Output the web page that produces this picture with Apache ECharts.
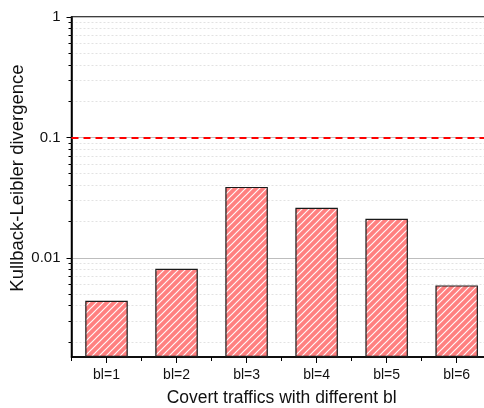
<!DOCTYPE html>
<html>
<head>
<meta charset="utf-8">
<script src="https://cdn.jsdelivr.net/npm/echarts@6/dist/echarts.min.js"></script>
<style>
  html, body { margin: 0; padding: 0; background: #ffffff; }
  #chart { width: 484px; height: 408px; }
</style>
</head>
<body>
<div id="chart"></div>
<script>
// Kullback-Leibler divergence per covert traffic setting (log scale)
const categories = ['bl=1', 'bl=2', 'bl=3', 'bl=4', 'bl=5', 'bl=6'];
const klValues = [0.0044, 0.0081, 0.0388, 0.026, 0.0211, 0.0059];
const thresholdValue = 0.1;

// y range (data units) and tick positions
const yMin = 0.0015;
const yMax = 1;
const majorTicks = [0.01, 0.1, 1];
const majorTickLabels = ['0.01', '0.1', '1'];
const minorTicks = [
  0.002, 0.003, 0.004, 0.005, 0.006, 0.007, 0.008, 0.009,
  0.02, 0.03, 0.04, 0.05, 0.06, 0.07, 0.08, 0.09,
  0.2, 0.3, 0.4, 0.5, 0.6, 0.7, 0.8, 0.9
];

// Values are drawn as decades above the axis floor, so bars rise from the bottom
const logBase = Math.log10(yMin);
const toAxis = v => Math.log10(v) - logBase;
const axisMax = toAxis(yMax);

// Diagonal white hatch on a light red fill
function hatchPattern() {
  const s = 7;
  const c = document.createElement('canvas');
  c.width = s; c.height = s;
  const g = c.getContext('2d');
  g.fillStyle = '#ff8080';
  g.fillRect(0, 0, s, s);
  g.strokeStyle = 'rgba(255,255,255,0.95)';
  g.lineWidth = 1.2;
  g.beginPath();
  g.moveTo(-1, s + 1); g.lineTo(s + 1, -1);
  g.moveTo(-1, 1); g.lineTo(1, -1);
  g.moveTo(s - 1, s + 1); g.lineTo(s + 1, s - 1);
  g.stroke();
  return c;
}

const chart = echarts.init(document.getElementById('chart'), null, { renderer: 'canvas' });
const textColor = '#111';
const font = 'Liberation Sans, Arial, sans-serif';

chart.setOption({
  animation: false,
  grid: {
    left: 71.5, top: 17, right: -7.7, bottom: 51,
    outerBoundsMode: 'none',
    containLabel: false,
    show: true, borderColor: '#000', borderWidth: 1.5, backgroundColor: 'transparent'
  },
  xAxis: [
    {
      type: 'category',
      data: categories,
      position: 'bottom',
      axisLine: { show: true, lineStyle: { color: '#000', width: 1.5 } },
      axisTick: { show: true, length: 4, lineStyle: { color: '#000', width: 1 } },
      axisLabel: { color: textColor, fontSize: 14, fontFamily: font, margin: 11 },
      name: 'Covert traffics with different bl',
      nameLocation: 'middle',
      nameGap: 32,
      nameTextStyle: { color: textColor, fontSize: 17.5, fontFamily: font }
    },
    {
      type: 'category',
      data: categories,
      position: 'bottom',
      axisLine: { show: false },
      axisTick: { show: true, alignWithLabel: true, length: 6, lineStyle: { color: '#000', width: 1 } },
      axisLabel: { show: false }
    }
  ],
  yAxis: [
    {
      type: 'value',
      min: 0,
      max: axisMax,
      position: 'left',
      axisLine: { show: true, lineStyle: { color: '#000', width: 1.5 } },
      axisTick: {
        show: true, length: 5, inside: false,
        customValues: majorTicks.map(toAxis),
        lineStyle: { color: '#000', width: 1 }
      },
      axisLabel: {
        show: true, color: textColor, fontSize: 15, fontFamily: font, margin: 11,
        customValues: majorTicks.map(toAxis),
        formatter: function (v) {
          let best = 0;
          majorTicks.forEach((t, i) => {
            if (Math.abs(toAxis(t) - v) < Math.abs(toAxis(majorTicks[best]) - v)) best = i;
          });
          return majorTickLabels[best];
        }
      },
      splitLine: { show: true, lineStyle: { color: '#bdbdbd', width: 1, type: 'solid' } },
      name: 'Kullback-Leibler divergence',
      nameLocation: 'middle',
      nameGap: 44,
      nameRotate: 90,
      nameMoveOverlap: false,
      nameTextStyle: { color: textColor, fontSize: 18.5, fontFamily: font, padding: [0, 0, 0, 18] }
    },
    {
      type: 'value',
      min: 0,
      max: axisMax,
      position: 'left',
      axisLine: { show: false },
      axisTick: {
        show: true, length: 3, inside: false,
        customValues: minorTicks.map(toAxis),
        lineStyle: { color: '#000', width: 1 }
      },
      axisLabel: { show: false },
      splitLine: { show: true, lineStyle: { color: '#e2e2e2', width: 1, type: [2, 2] } }
    }
  ],
  series: [
    {
      type: 'bar',
      xAxisIndex: 0,
      yAxisIndex: 0,
      data: klValues.map(toAxis),
      barWidth: 42.5,
      z: 3,
      itemStyle: {
        color: { image: hatchPattern(), repeat: 'repeat' },
        borderColor: '#1a1a1a',
        borderWidth: 1.2
      },
      markLine: {
        silent: true,
        symbol: 'none',
        label: { show: false },
        lineStyle: { color: '#ff0000', width: 2, type: [7, 5] },
        data: [{ yAxis: toAxis(thresholdValue) }]
      }
    }
  ]
});
</script>
</body>
</html>
